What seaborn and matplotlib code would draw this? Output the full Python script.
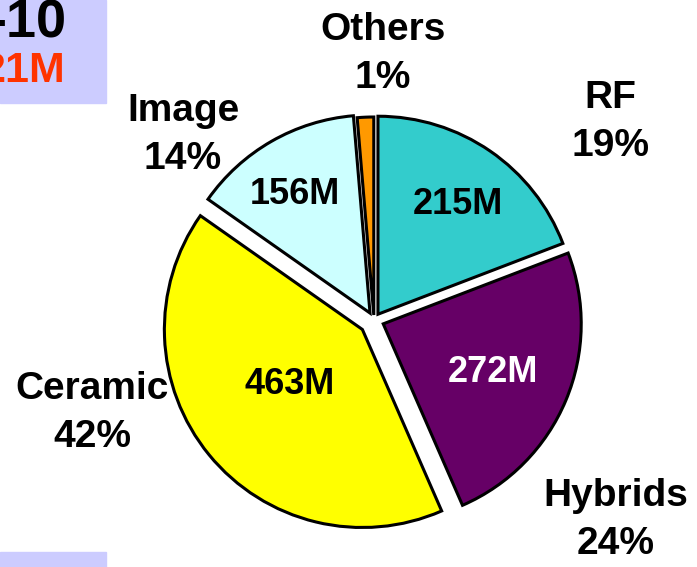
import matplotlib
matplotlib.use("Agg")
import matplotlib.pyplot as plt
import seaborn as sns

# market split by segment (values in $M)
segments = ["RF", "Hybrids", "Ceramic", "Image", "Others"]
revenue_m = [215, 272, 463, 156, 15]
share_pct = [19, 24, 42, 14, 1]

# colours and how far each slice is pulled out (pixels)
colors = sns.color_palette(["#33CCCC", "#660066", "#FFFF00", "#CCFFFF", "#FF9900"])
explode = [7, 10, 15, 8, 5]

# text placement in pixel coords (y from top)
outer_pos = [(610, 122), (616, 520), (92, 413), (183, 135), (383, 54)]
inner_pos = [(458, 205), (493, 373), (290, 385), (295, 195), None]
inner_col = ["black", "white", "black", "black", "black"]

sns.set_theme(style="white")
plt.rcParams["font.family"] = ["Liberation Sans", "DejaVu Sans"]
plt.rcParams["text.color"] = "black"

W, H = 697, 567
fig = plt.figure(figsize=(W / 100, H / 100), dpi=100)
ax = fig.add_axes([0, 0, 1, 1])


def sy(y):
    return H - y


ax.pie(revenue_m, colors=colors, explode=explode, startangle=90,
       counterclock=False, center=(374, sy(320)), radius=198, frame=True,
       wedgeprops=dict(edgecolor="black", linewidth=2.2))
ax.set_xlim(0, W)
ax.set_ylim(0, H)
ax.set_aspect("equal")
ax.axis("off")

for name, pct, (x, y) in zip(segments, share_pct, outer_pos):
    ax.text(x, sy(y), f"{name}\n{pct}%", ha="center", va="center",
            fontsize=28, fontweight="bold", color="black",
            linespacing=1.45, zorder=5)

for val, pos, c in zip(revenue_m, inner_pos, inner_col):
    if pos is None:
        continue
    ax.text(pos[0], sy(pos[1]), f"{val}M", ha="center", va="center",
            fontsize=26, fontweight="bold", color=c, zorder=5)

# cut-off title boxes on the left
narrow = ["Liberation Sans Narrow", "Liberation Sans", "DejaVu Sans"]
ax.add_patch(plt.Rectangle((0, sy(103)), 106, 103, color="#CCCCFF", zorder=0))
ax.add_patch(plt.Rectangle((0, 0), 106, 15, color="#CCCCFF", zorder=0))
ax.text(67, sy(23), "-10", ha="right", va="center", fontsize=39,
        fontweight="bold", color="black", family=narrow)
ax.text(65, sy(71), "21M", ha="right", va="center", fontsize=31,
        fontweight="bold", color="#FF3300", family=narrow)

fig.savefig("out.png", dpi=100)
